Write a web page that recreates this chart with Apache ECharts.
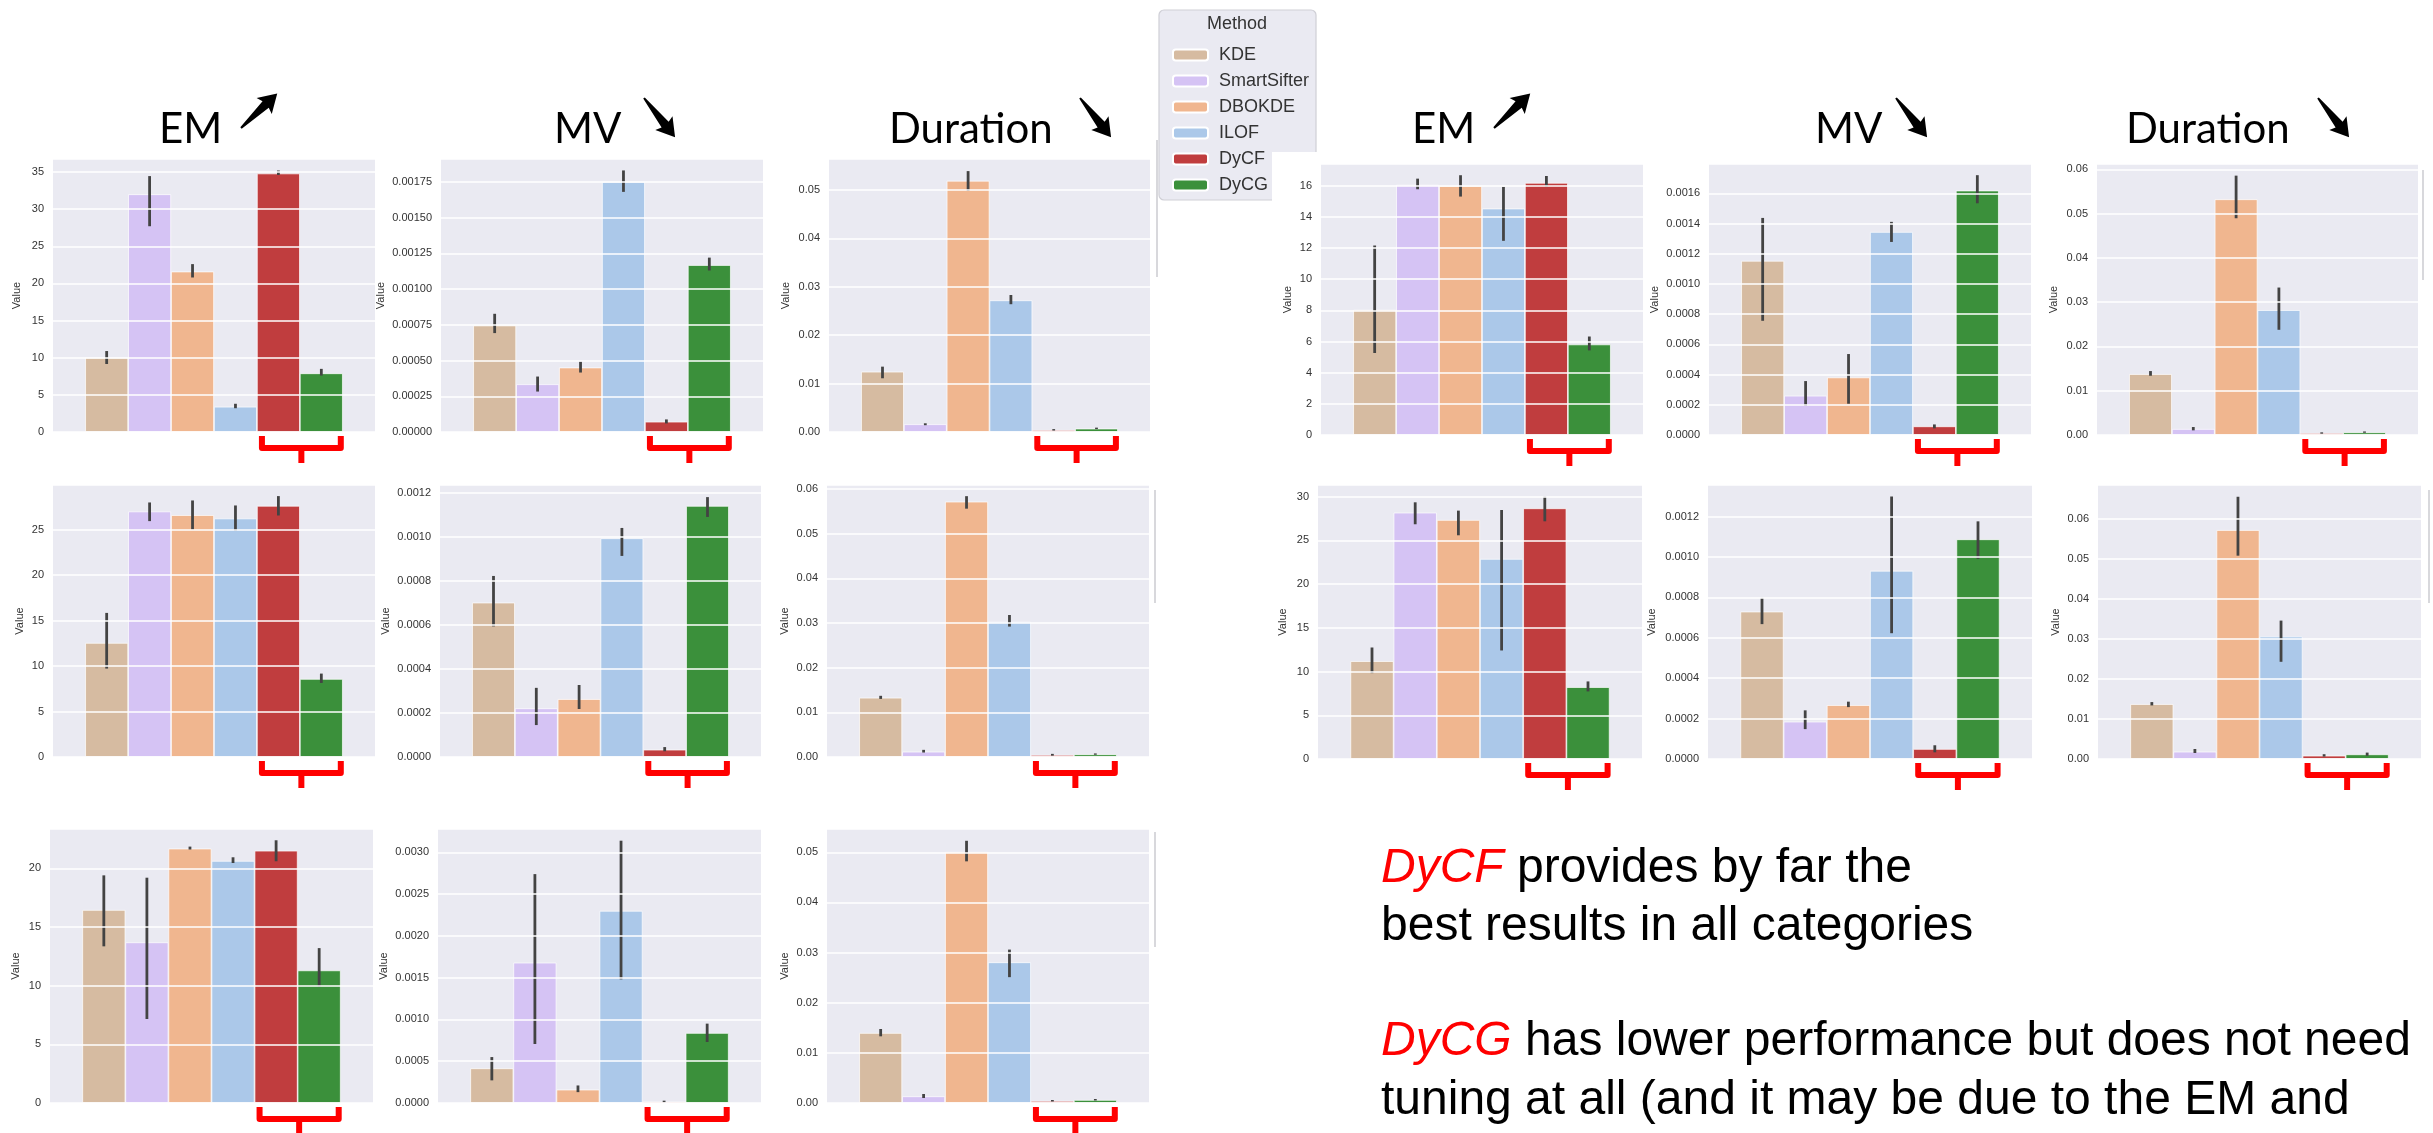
<!DOCTYPE html>
<html>
<head>
<meta charset="utf-8">
<script src="https://cdn.jsdelivr.net/npm/echarts@6/dist/echarts.min.js"></script>
<style>
  html, body { margin: 0; padding: 0; background: #ffffff; }
  #chart { width: 2433px; height: 1133px; }
</style>
</head>
<body>
<div id="chart"></div>
<script>
// ---------------- data ----------------
const methods = ['KDE', 'SmartSifter', 'DBOKDE', 'ILOF', 'DyCF', 'DyCG'];

// left block, row 1
const l1EM    = [10.0, 32.0, 21.6, 3.4, 34.8, 7.9];
const l1EMci  = [[9.15, 10.9], [27.7, 34.45], [20.8, 22.6], [3.2, 3.8], [34.6, 35.2], [7.6, 8.5]];
const l1MV    = [0.000745, 0.000334, 0.000451, 0.00175, 0.000072, 0.001168];
const l1MVci  = [[0.000692, 0.000827], [0.000283, 0.000388], [0.000416, 0.000493], [0.00168, 0.00183], [0.00006, 0.000088], [0.00113, 0.00122]];
const l1Dur   = [0.01246, 0.0016, 0.0519, 0.0272, 0.0004, 0.0007];
const l1Durci = [[0.0111, 0.0135], [0.0014, 0.0018], [0.0498, 0.0539], [0.0264, 0.0283], [0.0003, 0.0006], [0.0006, 0.0009]];

// left block, row 2
const l2EM    = [12.54, 26.99, 26.59, 26.22, 27.61, 8.58];
const l2EMci  = [[9.72, 15.84], [25.93, 27.98], [25.0, 28.2], [24.9, 27.65], [26.55, 28.68], [8.14, 9.17]];
const l2MV    = [0.000701, 0.000221, 0.000263, 0.000993, 0.0000333, 0.00114];
const l2MVci  = [[0.000593, 0.000822], [0.000145, 0.000314], [0.000218, 0.000327], [0.000913, 0.00104], [0.000026, 0.000045], [0.00109, 0.00118]];
const l2Dur   = [0.01327, 0.00119, 0.05717, 0.03026, 0.00045, 0.0006];
const l2Durci = [[0.0130, 0.0137], [0.0010, 0.0016], [0.0556, 0.0584], [0.0292, 0.0318], [0.0003, 0.0007], [0.0005, 0.0008]];

// left block, row 3
const l3EM    = [16.45, 13.69, 21.68, 20.63, 21.5, 11.3];
const l3EMci  = [[13.35, 19.4], [7.16, 19.2], [21.6, 21.85], [20.45, 20.94], [20.6, 22.39], [9.9, 13.2]];
const l3MV    = [0.000415, 0.00168, 0.00016, 0.0023, 0.000016, 0.000838];
const l3MVci  = [[0.000271, 0.00055], [0.000706, 0.00274], [0.00013, 0.00021], [0.00148, 0.00314], [0.000008, 0.000028], [0.00073, 0.00095]];
const l3Dur   = [0.01396, 0.00133, 0.05007, 0.02806, 0.0004, 0.0006];
const l3Durci = [[0.0133, 0.01476], [0.001, 0.0018], [0.0482, 0.0523], [0.0251, 0.0306], [0.0003, 0.0006], [0.0005, 0.0008]];

// right block, row 1
const r1EM    = [8.03, 16.05, 15.98, 14.53, 16.18, 5.81];
const r1EMci  = [[5.26, 12.16], [15.77, 16.45], [15.3, 16.67], [12.46, 15.92], [15.92, 16.62], [5.43, 6.32]];
const r1MV    = [0.001153, 0.00026, 0.000381, 0.001344, 0.0000573, 0.001618];
const r1MVci  = [[0.000756, 0.001437], [0.000194, 0.000357], [0.000207, 0.000536], [0.001278, 0.001411], [0.000044, 0.00007], [0.001534, 0.00172]];
const r1Dur   = [0.01376, 0.00135, 0.05323, 0.0282, 0.0004, 0.0006];
const r1Durci = [[0.01338, 0.01444], [0.00105, 0.0018], [0.04895, 0.05857], [0.02376, 0.0333], [0.0003, 0.0006], [0.0005, 0.0008]];

// right block, row 2
const r2EM    = [11.19, 28.17, 27.33, 22.88, 28.66, 8.22];
const r2EMci  = [[9.82, 12.75], [26.84, 29.35], [25.58, 28.4], [12.41, 28.47], [27.18, 30.0], [7.73, 8.87]];
const r2MV    = [0.00073, 0.000185, 0.000267, 0.000932, 0.0000495, 0.001088];
const r2MVci  = [[0.000668, 0.000798], [0.000148, 0.000241], [0.000257, 0.000284], [0.000623, 0.0013], [0.000033, 0.000068], [0.000991, 0.001177]];
const r2Dur   = [0.01373, 0.00183, 0.05724, 0.03062, 0.00083, 0.00116];
const r2Durci = [[0.0134, 0.01423], [0.0015, 0.0025], [0.05083, 0.06556], [0.0243, 0.0346], [0.0006, 0.0012], [0.0008, 0.0016]];

// value-axis scales: [max, tick interval, decimals of tick labels]
const l1EMAxis = [36.75, 5, 0],  l1MVAxis = [0.00191, 0.00025, 5],  l1DurAxis = [0.0564, 0.01, 2];
const l2EMAxis = [29.9, 5, 0],   l2MVAxis = [0.001235, 0.0002, 4],  l2DurAxis = [0.0609, 0.01, 2];
const l3EMAxis = [23.35, 5, 0],  l3MVAxis = [0.00328, 0.0005, 4],   l3DurAxis = [0.05465, 0.01, 2];
const r1EMAxis = [17.39, 2, 0],  r1MVAxis = [0.001794, 0.0002, 4],  r1DurAxis = [0.0612, 0.01, 2];
const r2EMAxis = [31.33, 5, 0],  r2MVAxis = [0.001357, 0.0002, 4],  r2DurAxis = [0.0685, 0.01, 2];

const metricTitles = ['EM', 'MV', 'Duration'];

// ---------------- layout & style ----------------
const palette = ['#d6bba1', '#d5c3f4', '#f0b68f', '#abc8e9', '#c03d3e', '#3b903b'];
const FONT = 'Liberation Sans, Arial, sans-serif';

const panels = [
  { v: l1EM,  ci: l1EMci,  ax: l1EMAxis,  box: [53, 159, 322, 273],  gap: 31 },
  { v: l1MV,  ci: l1MVci,  ax: l1MVAxis,  box: [441, 159, 322, 273], gap: 55 },
  { v: l1Dur, ci: l1Durci, ax: l1DurAxis, box: [829, 159, 321, 273], gap: 38 },
  { v: l2EM,  ci: l2EMci,  ax: l2EMAxis,  box: [53, 485, 322, 272],  gap: 28 },
  { v: l2MV,  ci: l2MVci,  ax: l2MVAxis,  box: [440, 485, 321, 272], gap: 49 },
  { v: l2Dur, ci: l2Durci, ax: l2DurAxis, box: [827, 485, 322, 272], gap: 37 },
  { v: l3EM,  ci: l3EMci,  ax: l3EMAxis,  box: [50, 829, 323, 274],  gap: 29 },
  { v: l3MV,  ci: l3MVci,  ax: l3MVAxis,  box: [438, 829, 323, 274], gap: 49 },
  { v: l3Dur, ci: l3Durci, ax: l3DurAxis, box: [827, 829, 322, 274], gap: 37 },
  { v: r1EM,  ci: r1EMci,  ax: r1EMAxis,  box: [1321, 164, 322, 271], gap: 28 },
  { v: r1MV,  ci: r1MVci,  ax: r1MVAxis,  box: [1709, 164, 322, 271], gap: 49 },
  { v: r1Dur, ci: r1Durci, ax: r1DurAxis, box: [2097, 164, 321, 271], gap: 38 },
  { v: r2EM,  ci: r2EMci,  ax: r2EMAxis,  box: [1318, 485, 324, 274], gap: 30 },
  { v: r2MV,  ci: r2MVci,  ax: r2MVAxis,  box: [1708, 485, 324, 274], gap: 51 },
  { v: r2Dur, ci: r2Durci, ax: r2DurAxis, box: [2098, 485, 323, 274], gap: 37 }
];

const grids = [], xAxes = [], yAxes = [], series = [];

// seaborn-style dodge: the six bars fill the middle 80% of the single category band
function barCenter(api, i) {
  const c = api.coord([0, 0]);
  const band = api.size([1, 0])[0];
  const bw = band * 0.8 / methods.length;
  return { x: c[0] - band * 0.4 + (i + 0.5) * bw, bw: bw, y0: c[1] };
}

function renderErr(params, api) {
  const i = api.value(3);
  const lo = api.coord([0, api.value(1)]);
  const hi = api.coord([0, api.value(2)]);
  const x = barCenter(api, i).x;
  return {
    type: 'line',
    shape: { x1: x, y1: lo[1], x2: x, y2: hi[1] },
    style: { stroke: '#434343', lineWidth: 2.8 }
  };
}

// red bracket under the DyCF / DyCG pair
function renderBrace(params, api) {
  const a = barCenter(api, 4), b = barCenter(api, 5);
  const x1 = a.x - a.bw / 2 + 5, x2 = b.x + b.bw / 2 - 2;
  const y0 = a.y0 + 4, yh = a.y0 + 16, ys = a.y0 + 31;
  const xm = (x1 + x2) / 2;
  const st = { stroke: '#ff0000', lineWidth: 6, fill: null, lineJoin: 'round' };
  return {
    type: 'group',
    children: [
      { type: 'polyline', shape: { points: [[x1, y0], [x1, yh], [x2, yh], [x2, y0]] }, style: st },
      { type: 'line', shape: { x1: xm, y1: yh, x2: xm, y2: ys }, style: st }
    ]
  };
}

panels.forEach((p, k) => {
  const [l, t, w, h] = p.box;
  grids.push({
    left: l, top: t, width: w, height: h,
    show: true, backgroundColor: '#eaeaf2', borderWidth: 0
  });
  xAxes.push({
    type: 'category', gridIndex: k, data: [''],
    axisLine: { show: false }, axisTick: { show: false }, axisLabel: { show: false },
    splitLine: { show: false }
  });
  const [mx, step, dec] = p.ax;
  yAxes.push({
    type: 'value', gridIndex: k, min: 0, max: mx, interval: step, z: 20,
    name: 'Value', nameLocation: 'middle', nameGap: p.gap,
    nameTextStyle: { fontSize: 11, color: '#333', fontFamily: FONT },
    axisLine: { show: false }, axisTick: { show: false },
    axisLabel: {
      fontSize: 11, color: '#333', fontFamily: FONT, margin: 9,
      showMaxLabel: false,
      formatter: v => {
        const r = v / step;
        return Math.abs(r - Math.round(r)) < 1e-6 ? v.toFixed(dec) : '';
      }
    },
    splitLine: { show: true, lineStyle: { color: '#ffffff', width: 1.6 } }
  });
  methods.forEach((m, i) => {
    series.push({
      type: 'bar', name: m, xAxisIndex: k, yAxisIndex: k,
      data: [p.v[i]], barGap: '0%', barCategoryGap: '20%',
      itemStyle: { color: palette[i], borderColor: '#ffffff', borderWidth: 0.7 },
      emphasis: { disabled: true }
    });
  });
  series.push({
    type: 'custom', name: 'ci', xAxisIndex: k, yAxisIndex: k,
    data: p.ci.map((c, i) => [0, c[0], c[1], i]),
    encode: { x: 0, y: [1, 2] },
    renderItem: renderErr, silent: true, z: 5
  });
  series.push({
    type: 'custom', name: 'bracket', xAxisIndex: k, yAxisIndex: k,
    data: [[0, 0]], encode: { x: 0, y: 1 }, clip: false,
    renderItem: renderBrace, silent: true, z: 6
  });
});

// ---------------- headings, legend frame, notes ----------------
const graphics = [];

function arrowShape(x, y, up) {
  // wedge arrow whose tail sits at (x, y)
  return {
    type: 'polygon', x: x, y: y, rotation: up ? 0.76 : -0.9,
    shape: { points: [[0, -1], [34, -4.5], [32, -11], [50, 0], [32, 11], [34, 4.5], [0, 1]] },
    style: { fill: '#000000' }
  };
}

const headingSpots = [
  { x: 159, ax: 241, up: true },  { x: 554, ax: 644, up: false }, { x: 889, ax: 1080, up: false },
  { x: 1412, ax: 1494, up: true }, { x: 1815, ax: 1896, up: false }, { x: 2126, ax: 2318, up: false }
];
headingSpots.forEach((s, i) => {
  graphics.push({
    type: 'text', x: s.x, y: 129,
    style: { text: metricTitles[i % 3], font: '42px Lato, "Open Sans", sans-serif', fill: '#000', verticalAlign: 'middle' }
  });
  graphics.push(arrowShape(s.ax, s.up ? 128 : 98, s.up));
});

// legend frame and heading
graphics.push({
  type: 'rect', z: 1,
  shape: { x: 1159, y: 10, width: 157, height: 190, r: 5 },
  style: { fill: '#eaeaf2', stroke: '#cfcfd6', lineWidth: 1.2 }
});
graphics.push({
  type: 'text', z: 6, x: 1237, y: 24,
  style: { text: 'Method', font: '18px ' + FONT, fill: '#333', align: 'center', verticalAlign: 'middle' }
});
// the next panel block sits on top of the legend's lower right corner
graphics.push({
  type: 'rect', z: 10,
  shape: { x: 1272, y: 152, width: 48, height: 56 },
  style: { fill: '#ffffff' }
});

// faint frame edges beside the panel blocks
[[1157, 140, 277], [1155, 490, 603], [1155, 832, 947], [2423, 170, 280], [2429, 490, 603]].forEach(e => {
  graphics.push({
    type: 'line', shape: { x1: e[0], y1: e[1], x2: e[0], y2: e[2] },
    style: { stroke: '#d8d8dc', lineWidth: 2 }
  });
});

// notes
const noteFont = '48px ' + FONT;
const noteRich = { r: { font: 'italic ' + noteFont, fill: '#ff0000' }, n: { font: noteFont, fill: '#000' } };
[
  ['{r|DyCF}{n| provides by far the}', 880],
  ['{n|best results in all categories}', 938],
  ['{r|DyCG}{n| has lower performance but does not need}', 1053],
  ['{n|tuning at all (and it may be due to the EM and}', 1112]
].forEach(([txt, base]) => {
  graphics.push({
    type: 'text', x: 1381, y: base - 11,
    style: { text: txt, rich: noteRich, font: noteFont, verticalAlign: 'middle' }
  });
});

const chart = echarts.init(document.getElementById('chart'), null, { renderer: 'canvas', width: 2433, height: 1133 });
chart.setOption({
  animation: false,
  backgroundColor: '#ffffff',
  grid: grids,
  xAxis: xAxes,
  yAxis: yAxes,
  series: series,
  legend: {
    data: methods, orient: 'vertical', left: 1167, top: 41, z: 4,
    itemWidth: 35, itemHeight: 11, itemGap: 8, icon: 'roundRect',
    textStyle: { fontSize: 18, color: '#333', fontFamily: FONT, lineHeight: 18, padding: [0, 0, 0, 6] }
  },
  graphic: { elements: graphics }
});
</script>
</body>
</html>
